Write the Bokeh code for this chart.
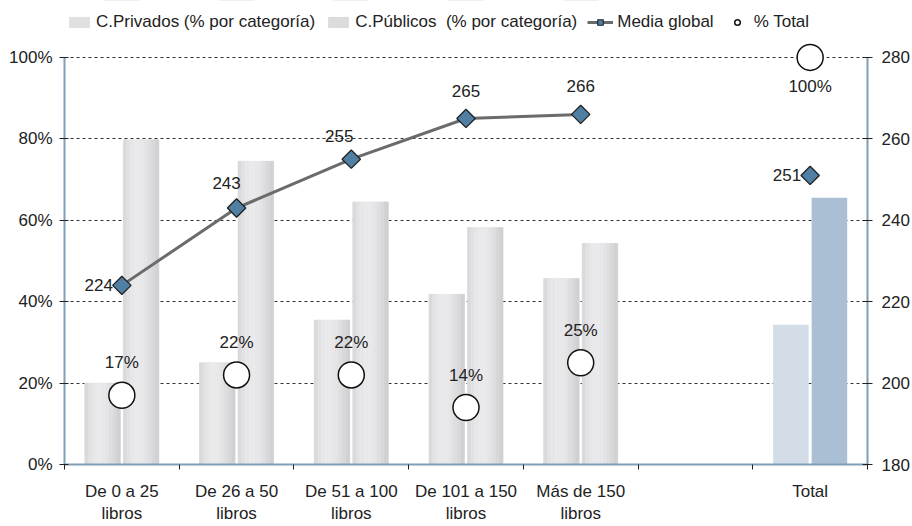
import numpy as np
from bokeh.plotting import figure
from bokeh.layouts import column
from bokeh.models import (Range1d, LinearAxis, FixedTicker, ColumnDataSource,
                          Legend, LegendItem, PrintfTickFormatter)
from bokeh.core.properties import value
from bokeh.embed import file_html
from bokeh.resources import INLINE

# ---------------- data ----------------
categories = ["De 0 a 25\nlibros", "De 26 a 50\nlibros", "De 51 a 100\nlibros",
              "De 101 a 150\nlibros", "Más de 150\nlibros", "", "Total"]
privados = [20.0, 25.0, 35.5, 41.8, 45.7, None, 34.3]
publicos = [79.8, 74.5, 64.5, 58.2, 54.3, None, 65.5]
media_global = [224, 243, 255, 265, 266, None, 251]
pct_total = [17, 22, 22, 14, 25, None, 100]
left_ticks = [0, 20, 40, 60, 80, 100]
right_ticks = [180, 200, 220, 240, 260, 280]
series_names = ["C.Privados (% por categoría)", "C.Públicos  (% por categoría)",
                "Media global", "% Total"]

FONT = "'Liberation Sans Narrow', 'Arial Narrow', 'Liberation Sans', sans-serif"
TXT = "#222222"
AXC = "#7f9fb7"
BAR_MID = "#dedee0"
LINE_C = "#6b6b6b"
DIAM_C = "#4f80a4"

idx = [i for i, v in enumerate(privados) if v is not None]
xs = np.array(idx, dtype=float)
bar_idx = [i for i in idx if categories[i] != "Total"]
tot_idx = [i for i in idx if categories[i] == "Total"]

# headroom above 100 % so the top circle is not clipped
head = 3.66
p = figure(width=912, height=490, x_range=Range1d(-0.5, len(categories) - 0.5),
           y_range=Range1d(left_ticks[0], left_ticks[-1] + head),
           output_backend="svg", toolbar_location=None,
           min_border_left=64, min_border_right=45, min_border_bottom=59, min_border_top=6)
p.extra_y_ranges = {"media": Range1d(right_ticks[0], right_ticks[-1] + head)}
p.outline_line_color = None
p.background_fill_color = "white"

# grid
p.xgrid.grid_line_color = None
p.ygrid.ticker = FixedTicker(ticks=left_ticks[1:])
p.ygrid.grid_line_color = "#333333"
p.ygrid.grid_line_dash = "3 3"
p.ygrid.grid_line_width = 1

# ---------------- bars ----------------
bw = 0.31
off = 0.168
shades = ["#dadadc", "#e2e2e4", "#e7e7e9", "#eaeaec", "#eaeaec",
          "#e8e8ea", "#e4e4e6", "#dedee1", "#d8d8db", "#d1d1d4"]
ns = len(shades)

def gradient_bars(vals, xoff, total_color):
    xb = [i + xoff for i in bar_idx]
    tb = [vals[i] for i in bar_idx]
    p.vbar(x=xb, top=tb, width=bw, bottom=0, fill_color=BAR_MID, line_color=None)
    for k, c in enumerate(shades):
        p.vbar(x=[x - bw / 2 + (k + 0.5) * bw / ns for x in xb], top=tb, width=bw / ns,
               bottom=0, fill_color=c, line_color=c, line_width=0.6)
    p.vbar(x=[i + xoff for i in tot_idx], top=[vals[i] for i in tot_idx], width=bw,
           bottom=0, fill_color=total_color, line_color=None)

gradient_bars(privados, -off, "#d3dde7")
gradient_bars(publicos, off, "#aabed4")

# ---------------- line (media global) ----------------
p.line(x=bar_idx, y=[media_global[i] for i in bar_idx], y_range_name="media",
       line_color=LINE_C, line_width=3)
p.scatter(x=idx, y=[media_global[i] for i in idx], y_range_name="media",
          marker="square", angle=np.pi / 4, size=13,
          fill_color=DIAM_C, line_color="#222222", line_width=1.3)

med_dx = [-9, -10, -12, 0, 0, -9]
med_dy = [0, -19, -17, -21, -22, 0]
med_align = ["right", "center", "center", "center", "center", "right"]
med_base = ["middle", "bottom", "bottom", "bottom", "bottom", "middle"]
src_m = ColumnDataSource(dict(x=xs, y=[media_global[i] for i in idx],
                              t=[str(media_global[i]) for i in idx],
                              dx=med_dx, dy=med_dy, al=med_align, bl=med_base))
p.text(x="x", y="y", text="t", x_offset="dx", y_offset="dy", text_align="al",
       text_baseline="bl", source=src_m, y_range_name="media",
       text_font=value(FONT), text_font_size="17px", text_color=TXT)

# ---------------- circles (% total) ----------------
p.scatter(x=idx, y=[pct_total[i] for i in idx], marker="circle", size=26,
          fill_color="white", line_color="#111111", line_width=1.5)
pct_dy = [-23, -23, -23, -23, -23, 20]
pct_base = ["bottom"] * 5 + ["top"]
src_p = ColumnDataSource(dict(x=xs, y=[pct_total[i] for i in idx],
                              t=[f"{pct_total[i]}%" for i in idx], dy=pct_dy, bl=pct_base))
p.text(x="x", y="y", text="t", y_offset="dy", text_align="center", text_baseline="bl",
       source=src_p, text_font=value(FONT), text_font_size="17px", text_color=TXT)

# ---------------- axes ----------------
xa = p.xaxis[0]
xa.ticker = FixedTicker(ticks=list(range(len(categories))),
                        minor_ticks=[i - 0.5 for i in range(len(categories) + 1)])
xa.major_label_overrides = {i: c for i, c in enumerate(categories)}
xa.major_tick_line_color = None
xa.major_tick_out = 0
xa.major_tick_in = 0
xa.minor_tick_line_color = "#222222"
xa.minor_tick_out = 5
xa.minor_tick_in = 0
xa.axis_line_color = AXC
xa.axis_line_width = 2
xa.major_label_text_font = FONT
xa.major_label_text_font_size = "17px"
xa.major_label_text_color = TXT
xa.major_label_standoff = 12

ya = p.yaxis[0]
ya.ticker = FixedTicker(ticks=left_ticks)
ya.bounds = (left_ticks[0], left_ticks[-1])
ya.formatter = PrintfTickFormatter(format="%d%%")
ya.minor_tick_line_color = None
ya.major_tick_in = 4
ya.major_tick_out = 5
ya.major_tick_line_color = "#222222"
ya.axis_line_color = AXC
ya.axis_line_width = 2
ya.major_label_text_font = FONT
ya.major_label_text_font_size = "17px"
ya.major_label_text_color = TXT
ya.major_label_standoff = 7

ra = LinearAxis(y_range_name="media", ticker=FixedTicker(ticks=right_ticks),
                bounds=(right_ticks[0], right_ticks[-1]))
ra.minor_tick_line_color = None
ra.major_tick_in = 5
ra.major_tick_out = 5
ra.major_tick_line_color = "#222222"
ra.axis_line_color = AXC
ra.axis_line_width = 2
ra.major_label_text_font = FONT
ra.major_label_text_font_size = "17px"
ra.major_label_text_color = TXT
ra.major_label_standoff = 9
p.add_layout(ra, "right")

# ---------------- legend (own strip above the chart) ----------------
# the series are re-drawn here outside the visible range; only their legend swatches show
lg = figure(width=912, height=36, x_range=Range1d(-0.5, len(categories) - 0.5),
            y_range=Range1d(-2, -1), output_backend="svg", toolbar_location=None,
            x_axis_location=None, y_axis_location=None,
            min_border_left=0, min_border_right=0, min_border_top=0, min_border_bottom=0)
lg.grid.visible = False
lg.outline_line_color = None
k_priv = lg.vbar(x=bar_idx, top=[privados[i] for i in bar_idx], bottom=0, width=bw,
                 fill_color="#e0e0e2", line_color=None)
k_pub = lg.vbar(x=bar_idx, top=[publicos[i] for i in bar_idx], bottom=0, width=bw,
                fill_color="#dcdcde", line_color=None)
k_line = lg.line(x=bar_idx, y=[media_global[i] for i in bar_idx], line_color=LINE_C, line_width=3)
k_diam = lg.scatter(x=idx, y=[media_global[i] for i in idx], marker="square",
                    angle=np.pi / 4, size=13, fill_color=DIAM_C, line_color="#222222",
                    line_width=1.1)
k_circ = lg.scatter(x=idx, y=[pct_total[i] for i in idx], marker="circle", size=26,
                    fill_color="white", line_color="#111111", line_width=1.5)

legend = Legend(items=[
    LegendItem(label=series_names[0], renderers=[k_priv]),
    LegendItem(label=series_names[1], renderers=[k_pub]),
    LegendItem(label=series_names[2], renderers=[k_line, k_diam]),
    LegendItem(label=series_names[3], renderers=[k_circ]),
], orientation="horizontal", location=(2, 4))
legend.label_text_font = FONT
legend.label_text_font_size = "17px"
legend.label_text_color = TXT
legend.glyph_width = 26
legend.glyph_height = 14
legend.spacing = 10
legend.label_standoff = 4
legend.border_line_color = None
legend.background_fill_alpha = 0
legend.padding = 2
legend.margin = 0
lg.add_layout(legend, "center")

layout = column(lg, p, spacing=0)
open("out.html", "w").write(file_html(layout, INLINE))
